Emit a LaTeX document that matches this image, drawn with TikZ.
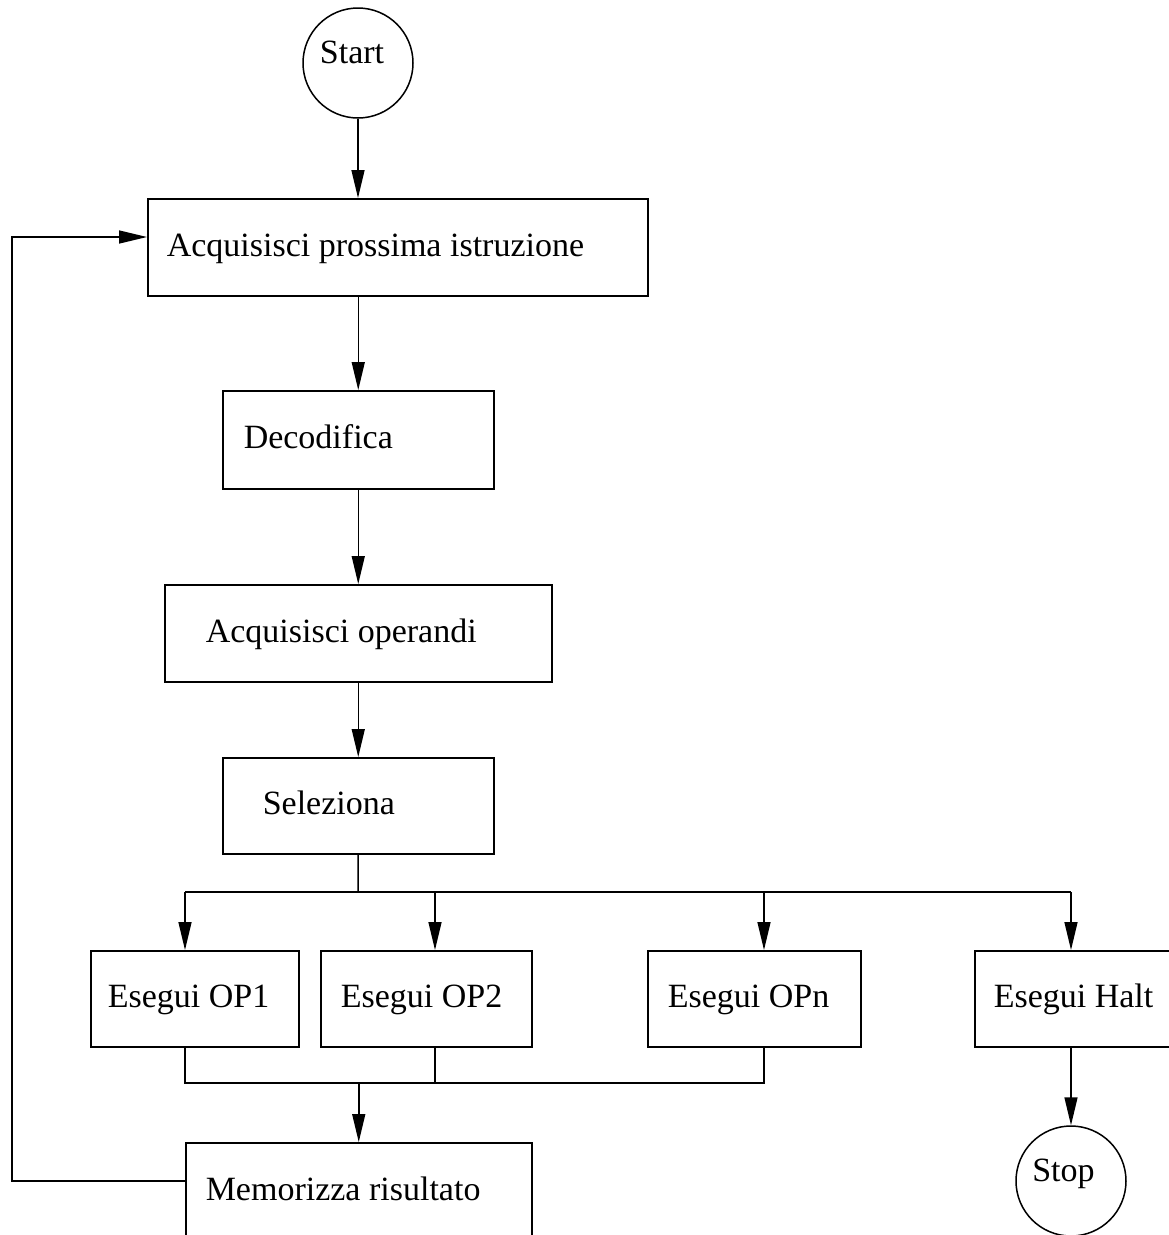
\documentclass[tikz,border=0pt]{standalone}
\usepackage{fontspec}
\setmainfont{Liberation Serif}
\usetikzlibrary{arrows.meta}

\begin{document}
\begin{tikzpicture}[x=1pt,y=-1pt,
  line width=1.5pt,
  every node/.style={font=\fontsize{34}{40}\selectfont},
  arr/.style={-{Triangle[length=28pt,width=13pt]}},
  proc/.style={draw, anchor=north west, align=flush left, inner ysep=0pt,
               minimum height=97pt, text height=24pt, text depth=6pt},
  term/.style={draw, circle, minimum size=110pt, inner sep=0pt,
               text height=20pt, text depth=20pt}]

\useasboundingbox (0,0) rectangle (1169,1235);
\clip (0,0) rectangle (1169,1235);

% terminals
\node[term] (start) at (358,63) {Start\hspace*{12pt}};
\node[term] (stop)  at (1071,1181) {Stop\hspace*{15pt}};

% main sequence
\node[proc, inner xsep=19pt, text width=462pt] (acq) at (147,198) {Acquisisci prossima istruzione};
\node[proc, inner xsep=21pt, text width=229pt, minimum height=98pt] (dec) at (222,390) {Decodifica};
\node[proc, inner xsep=41pt, text width=305pt] (ope) at (164,584) {Acquisisci operandi};
\node[proc, inner xsep=40pt, text width=191pt, minimum height=96pt] (sel) at (222,757) {Seleziona};

% execution branches
\node[proc, inner xsep=17pt, text width=174pt, minimum height=96pt] (op1) at (90,950) {Esegui OP1};
\node[proc, inner xsep=20pt, text width=171pt, minimum height=96pt] (op2) at (320,950) {Esegui OP2};
\node[proc, inner xsep=20pt, text width=173pt, minimum height=96pt] (opn) at (647,950) {Esegui OPn};
\node[proc, inner xsep=19pt, text width=174pt, minimum height=96pt] (halt) at (974,950) {Esegui Halt};

\node[proc, inner xsep=20pt, text width=306pt] (mem) at (185,1142) {Memorizza risultato};

% branch and join points
\coordinate (split) at (358,892);
\coordinate (b1) at (185,892);
\coordinate (b2) at (435,892);
\coordinate (b3) at (764,892);
\coordinate (b4) at (1071,892);
\coordinate (j1) at (185,1083);
\coordinate (j3) at (764,1083);
\coordinate (loopout) at (185,1181);
\coordinate (loopin) at (147,237);

% sequence arrows
\draw[arr] (start.south) -- (start.south |- acq.north);
\draw[arr] (dec.north |- acq.south) -- (dec.north);
\draw[arr] (dec.south) -- (ope.north);
\draw[arr] (ope.south) -- (sel.north);

% fan-out to the operations
\draw (sel.south) -- (split);
\draw (b1) -- (b4);
\draw[arr] (b1) -- (b1 |- op1.north);
\draw[arr] (b2) -- (b2 |- op2.north);
\draw[arr] (b3) -- (b3 |- opn.north);
\draw[arr] (b4) -- (b4 |- halt.north);

% join to the store step
\draw (b1 |- op1.south) -- (j1) -- (j3) -- (b3 |- opn.south);
\draw (b2 |- op2.south) -- (b2 |- j1);
\draw[arr] (mem.north |- j1) -- (mem.north);

% halt to stop
\draw[arr] (b4 |- halt.south) -- (stop.north);

% loop back to fetch
\draw[arr] (loopout) -- (12,1181) -- (12,237) -- (loopin);
\end{tikzpicture}
\end{document}
